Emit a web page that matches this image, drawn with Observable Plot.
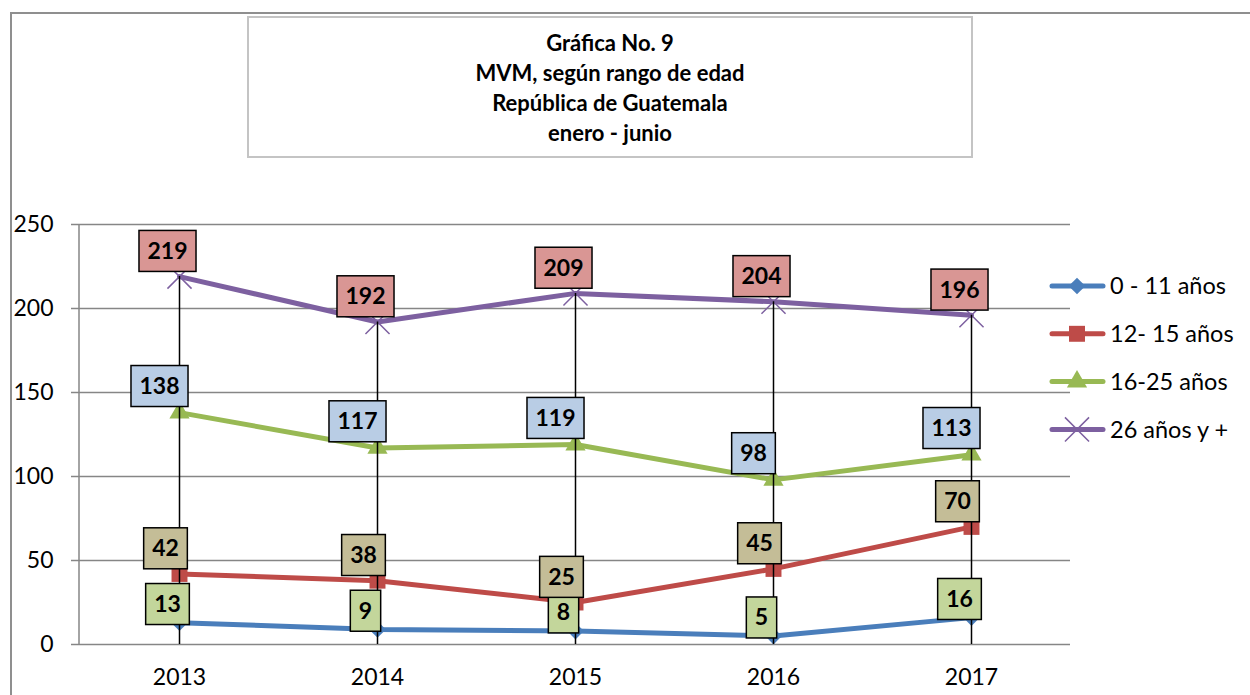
<!DOCTYPE html>
<html>
<head>
<meta charset="utf-8">
<script src="https://cdn.jsdelivr.net/npm/d3@7"></script>
<script src="https://cdn.jsdelivr.net/npm/@observablehq/plot@0.6"></script>
<style>
  html, body { margin: 0; padding: 0; background: #fff; }
  #wrap { position: relative; width: 1250px; height: 695px; overflow: hidden; font-family: Lato, "Open Sans", sans-serif; }
  #outer { position: absolute; left: 10px; top: 12px; width: 1300px; height: 800px; border-top: 2px solid #8f8f8f; border-left: 2px solid #8f8f8f; box-sizing: border-box; }
  #titlebox { position: absolute; left: 247px; top: 16px; width: 726px; height: 142px; border: 2px solid #c4c4c4; box-sizing: border-box; background: #fff;
    display: flex; flex-direction: column; justify-content: center; align-items: center; font-weight: bold; font-size: 22px; line-height: 30px; color: #000; padding-top: 2px; }
  #chart { position: absolute; left: 0; top: 0; }
</style>
</head>
<body>
<div id="wrap">
  <div id="outer"></div>
  <div id="titlebox">
    <div>Gráfica No. 9</div>
    <div>MVM, según rango de edad</div>
    <div>República de Guatemala</div>
    <div>enero - junio</div>
  </div>
  <div id="chart"></div>
</div>
<script>
// ---- data ----
const years = ["2013", "2014", "2015", "2016", "2017"];
const seriesNames = ["0 - 11 años", "12- 15 años", "16-25 años", "26 años y +"];
const age0to11 = [13, 9, 8, 5, 16];
const age12to15 = [42, 38, 25, 45, 70];
const age16to25 = [138, 117, 119, 98, 113];
const age26plus = [219, 192, 209, 204, 196];
const yTicks = [0, 50, 100, 150, 200, 250];

// ---- styles ----
const seriesValues = [age0to11, age12to15, age16to25, age26plus];
const colors = ["#4a7ebb", "#be4b48", "#98b954", "#7d60a0"];
const labelFills = ["#c3d69b", "#c4bd97", "#b9cde5", "#d99694"];
const symbols = ["diamond2", "square", "triangle", "times"];
const symbolR = [7.5, 9, 7.5, 11];
const labelOffsets = [[-12, -18], [-14, -25], [-20, -26], [-12, -25]];

const rows = [];
seriesValues.forEach((vals, k) => vals.forEach((v, i) => rows.push({year: years[i], value: v, k, series: seriesNames[k]})));
const maxes = years.map((y, i) => ({year: y, top: d3.max(seriesValues, s => s[i])}));

const marks = [
  Plot.gridY(yTicks, {stroke: "#868686", strokeOpacity: 1, strokeWidth: 1.5}),
  Plot.axisY(yTicks, {tickSize: 8, tickPadding: 18, stroke: "#868686", strokeWidth: 1.5, fontSize: 23, label: null}),
  Plot.axisX({tickSize: 0, tickPadding: 24, fontSize: 23, label: null})
];
seriesValues.forEach((vals, k) => {
  const data = rows.filter(d => d.k === k);
  marks.push(Plot.line(data, {x: "year", y: "value", stroke: colors[k], strokeWidth: 5}));
  if (symbols[k] === "times") {
    marks.push(Plot.dot(data, {x: "year", y: "value", symbol: symbols[k], r: symbolR[k], stroke: colors[k], strokeWidth: 1.5, fill: "none"}));
  } else {
    marks.push(Plot.dot(data, {x: "year", y: "value", symbol: symbols[k], r: symbolR[k], fill: colors[k], stroke: "none"}));
  }
});
marks.push(Plot.ruleX(maxes, {x: "year", y1: 0, y2: "top", stroke: "#000", strokeWidth: 1.5}));
seriesValues.forEach((vals, k) => {
  const data = rows.filter(d => d.k === k);
  marks.push(Plot.text(data, {x: "year", y: "value", text: d => String(d.value), dx: labelOffsets[k][0], dy: labelOffsets[k][1],
    fontSize: 23, fontWeight: "bold", fill: "#000"}));
});

const chart = Plot.plot({
  width: 1250, height: 695,
  marginLeft: 79, marginRight: 180, marginTop: 224, marginBottom: 51,
  style: {fontFamily: "Lato, 'Open Sans', sans-serif", fontSize: "23px", color: "#000", background: "transparent", overflow: "visible"},
  x: {type: "point", domain: years, padding: 0.5, label: null},
  y: {domain: [0, 250], label: null},
  marks
});
document.getElementById("chart").appendChild(chart);

const svg = d3.select(chart);
// y axis line
svg.insert("line", ":first-child").attr("x1", 79).attr("x2", 79).attr("y1", 224).attr("y2", 644)
  .attr("stroke", "#868686").attr("stroke-width", 1.5);

// label boxes (the four data-label text marks, in series order)
svg.selectAll('g[aria-label="text"]').each(function(_, k) {
  d3.select(this).selectAll("text").each(function() {
    const b = this.getBBox();
    const w = b.width + 17, h = 41;
    const cx = b.x + b.width / 2, cy = b.y + b.height / 2 + 1;
    d3.select(this.parentNode).insert("rect", () => this)
      .attr("x", cx - w / 2).attr("y", cy - h / 2).attr("width", w).attr("height", h)
      .attr("transform", this.getAttribute("transform"))
      .attr("fill", labelFills[k]).attr("stroke", "#000").attr("stroke-width", 1.5);
  });
});

// legend
const symMap = {diamond2: d3.symbolDiamond2, square: d3.symbolSquare, triangle: d3.symbolTriangle, times: d3.symbolTimes};
const lg = svg.append("g").attr("text-anchor", "start").style("font-family", "Lato, 'Open Sans', sans-serif").style("font-size", "23.5px");
seriesNames.forEach((name, k) => {
  const y = 286 + 47.8 * k;
  lg.append("line").attr("x1", 1052).attr("x2", 1103).attr("y1", y).attr("y2", y)
    .attr("stroke", colors[k]).attr("stroke-width", 5).attr("stroke-linecap", "round");
  const p = d3.symbol(symMap[symbols[k]], Math.PI * symbolR[k] * symbolR[k])();
  const s = lg.append("path").attr("d", p).attr("transform", `translate(1077,${y})`);
  if (symbols[k] === "times") s.attr("fill", "none").attr("stroke", colors[k]).attr("stroke-width", 1.5);
  else s.attr("fill", colors[k]);
  lg.append("text").attr("x", 1110).attr("y", y).attr("dy", "0.35em").attr("fill", "#000").text(name);
});
</script>
</body>
</html>
